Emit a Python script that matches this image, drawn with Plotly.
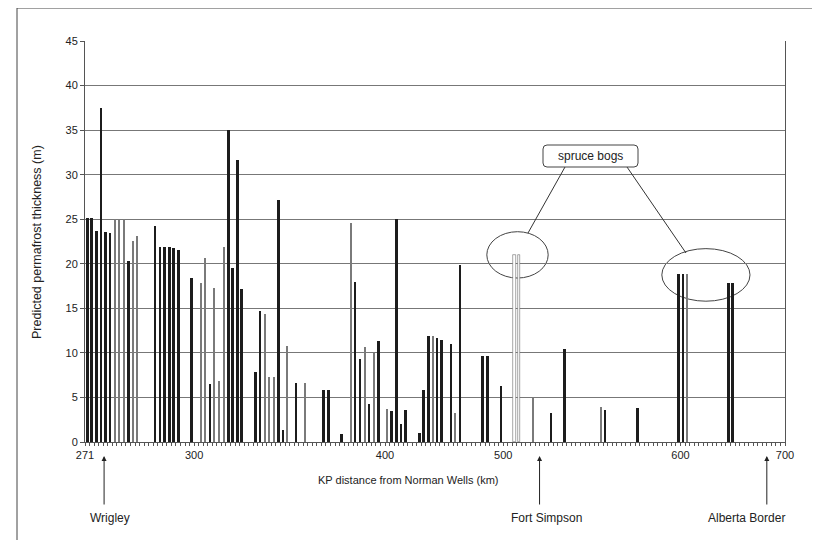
import plotly.graph_objects as go

# ---- data (category index along the route, predicted thickness, bar kind) ----
n_categories = 154
bar_index = [0, 1, 2, 3, 4, 5, 6, 7, 8, 9, 10, 11, 15, 16, 17, 18, 19, 20, 23, 25,
             26, 27, 28, 29, 30, 31, 32, 33, 34, 37, 38, 39, 40, 41, 42, 43, 44, 46, 48, 52,
             53, 56, 58, 59, 60, 61, 62, 63, 64, 66, 67, 68, 69, 70, 73, 74, 75, 76, 77, 78,
             80, 81, 82, 87, 88, 91, 94, 95, 98, 102, 105, 113, 114, 121, 130, 131, 132, 141, 142]
bar_height = [25.1, 25.1, 23.7, 37.5, 23.6, 23.4, 25.0, 25.0, 25.0, 20.3, 22.6, 23.1, 24.2, 21.9, 21.9, 21.9, 21.8, 21.5, 18.4, 17.8,
              20.6, 6.5, 17.3, 6.8, 21.9, 35.0, 19.5, 31.7, 17.2, 7.8, 14.7, 14.4, 7.3, 7.3, 27.2, 1.3, 10.8, 6.6, 6.6, 5.8,
              5.8, 0.9, 24.6, 18.0, 9.3, 10.7, 4.3, 10.0, 11.3, 3.7, 3.5, 25.0, 2.0, 3.6, 1.0, 5.8, 11.9, 11.9, 11.7, 11.5,
              11.0, 3.3, 19.9, 9.7, 9.7, 6.3, 21.0, 21.0, 4.9, 3.3, 10.4, 3.9, 3.6, 3.8, 18.8, 18.8, 18.8, 17.8, 17.8]
bar_kind = ["B", "B", "B", "B", "B", "B", "G", "G", "G", "B", "G", "G", "b", "B", "B", "B", "B", "B", "B", "g",
            "G", "B", "g", "G", "G", "B", "B", "B", "B", "B", "B", "G", "G", "G", "B", "b", "G", "b", "G", "B",
            "B", "B", "G", "b", "B", "G", "b", "G", "B", "G", "B", "B", "B", "B", "B", "B", "B", "G", "b", "B",
            "b", "g", "B", "B", "B", "B", "W", "W", "g", "B", "B", "G", "b", "B", "B", "b", "G", "B", "B"]

# tick labels sit on category boundaries (index of boundary = category - 0.5)
tick_boundary = [-0.5, 23.5, 65.5, 91.5, 130.5, 153.5]
tick_text = ["271", "300", "400", "500", "600", "700"]

place_names = ["Wrigley", "Fort Simpson", "Alberta Border"]
place_index = [3.7, 99.5, 149.5]

# ---- styles per kind ----
style = {
    "B": dict(color="#1c1c1c", line="#1c1c1c", width=0.62),
    "b": dict(color="#1c1c1c", line="#1c1c1c", width=0.30),
    "G": dict(color="#7a7a7a", line="#7a7a7a", width=0.45),
    "g": dict(color="#7a7a7a", line="#7a7a7a", width=0.28),
    "W": dict(color="#ffffff", line="#6a6a6a", width=0.55),
}

fig = go.Figure()
for kind, st in style.items():
    xs = [i for i, k in zip(bar_index, bar_kind) if k == kind]
    ys = [h for h, k in zip(bar_height, bar_kind) if k == kind]
    fig.add_trace(go.Bar(
        x=xs, y=ys, width=st["width"],
        marker=dict(color=st["color"], line=dict(color=st["line"], width=0.6 if kind == "W" else 0)),
        showlegend=False, hoverinfo="x+y",
    ))

# plot area in screen pixels (page has an 8px body margin)
OFF = 8
L, R, T, B = 85, 785, 41, 442
W, H = 820, 540

def px(xp):
    return (xp - L) / (R - L)

def py(yp):
    return (B - yp) / (B - T)

font = "Liberation Sans, Arial, sans-serif"

all_bounds = [i - 0.5 for i in range(n_categories + 1)]
labels = {b: t for b, t in zip(tick_boundary, tick_text)}
all_text = [labels.get(b, "") for b in all_bounds]

fig.update_layout(
    width=W, height=H,
    margin=dict(l=L - OFF, r=W - (R - OFF), t=T - OFF, b=H - (B - OFF)),
    paper_bgcolor="white", plot_bgcolor="white",
    bargap=0, barmode="overlay",
    font=dict(family=font, size=11, color="#222"),
    xaxis=dict(
        range=[-0.5, n_categories - 0.5],
        tickmode="array", tickvals=all_bounds, ticktext=all_text,
        ticks="outside", ticklen=3, tickcolor="#555", tickwidth=1,
        showgrid=False, zeroline=False,
        showline=True, linecolor="#555", linewidth=1,
        tickfont=dict(size=11, color="#222"),
    ),
    yaxis=dict(
        range=[0, 45], dtick=5, tick0=0,
        ticks="outside", ticklen=4, tickcolor="#555",
        showgrid=True, gridcolor="#777777", gridwidth=1,
        zeroline=False, showline=True, linecolor="#555", linewidth=1, mirror=True,
        tickfont=dict(size=11, color="#222"),
    ),
)

shapes = []
# outer frame (top and left)
shapes.append(dict(type="line", xref="paper", yref="paper", x0=px(17), y0=py(8), x1=px(830), y1=py(8),
                   line=dict(color="#444", width=1)))
shapes.append(dict(type="line", xref="paper", yref="paper", x0=px(17), y0=py(8), x1=px(17), y1=py(560),
                   line=dict(color="#444", width=1)))

# ellipses around spruce bogs (white filled, below bars)
shapes.append(dict(type="circle", xref="x", yref="y", x0=87.9, x1=101.4, y0=18.4, y1=23.6,
                   fillcolor="white", line=dict(color="#444", width=1), layer="below"))
shapes.append(dict(type="circle", xref="x", yref="y", x0=126.4, x1=145.8, y0=15.8, y1=21.7,
                   fillcolor="white", line=dict(color="#444", width=1), layer="below"))

# connector lines from label box to ellipses
shapes.append(dict(type="line", xref="paper", yref="paper", x0=px(565), y0=py(167), x1=px(528), y1=py(233),
                   line=dict(color="#333", width=1)))
shapes.append(dict(type="line", xref="paper", yref="paper", x0=px(627), y0=py(167), x1=px(686), y1=py(253),
                   line=dict(color="#333", width=1)))

# rounded label box
bx0, bx1, by0, by1, r = 543, 638, 145, 167, 4
path = (f"M {px(bx0 + r)},{py(by0)} L {px(bx1 - r)},{py(by0)} "
        f"Q {px(bx1)},{py(by0)} {px(bx1)},{py(by0 + r)} L {px(bx1)},{py(by1 - r)} "
        f"Q {px(bx1)},{py(by1)} {px(bx1 - r)},{py(by1)} L {px(bx0 + r)},{py(by1)} "
        f"Q {px(bx0)},{py(by1)} {px(bx0)},{py(by1 - r)} L {px(bx0)},{py(by0 + r)} "
        f"Q {px(bx0)},{py(by0)} {px(bx0 + r)},{py(by0)} Z")
shapes.append(dict(type="path", xref="paper", yref="paper", path=path,
                   fillcolor="white", line=dict(color="#444", width=1)))

fig.update_layout(shapes=shapes)

ann = []
ann.append(dict(xref="paper", yref="paper", x=px(590.5), y=py(156), text="spruce bogs", showarrow=False,
                font=dict(size=12, color="#222"), xanchor="center", yanchor="middle"))
ann.append(dict(xref="paper", yref="paper", x=px(408), y=py(480), text="KP distance from Norman Wells (km)",
                showarrow=False, font=dict(size=11, color="#222"), xanchor="center", yanchor="middle"))
ann.append(dict(xref="paper", yref="paper", x=px(37), y=py(242), text="Predicted permafrost thickness (m)",
                showarrow=False, textangle=-90, font=dict(size=12.5, color="#222"), xanchor="center", yanchor="middle"))

label_x = [110, 546, 746]
for name, idx, lx in zip(place_names, place_index, label_x):
    ann.append(dict(x=idx, y=0, xref="x", yref="paper", yshift=-14, text="", showarrow=True,
                    arrowhead=2, arrowsize=1, arrowwidth=1, arrowcolor="#222",
                    ax=0, ay=50, axref="pixel", ayref="pixel"))
    ann.append(dict(xref="paper", yref="paper", x=px(lx), y=py(518), text=name, showarrow=False,
                    font=dict(size=12, color="#222"), xanchor="center", yanchor="middle"))

fig.update_layout(annotations=ann)

fig.write_html("out.html")
